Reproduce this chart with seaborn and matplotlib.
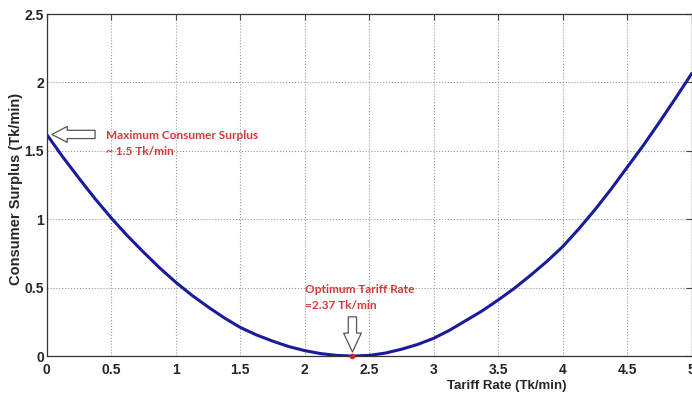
import numpy as np
import pandas as pd
import matplotlib
matplotlib.use("Agg")
import matplotlib.pyplot as plt
import seaborn as sns

# Values
tariff = [0.0, 0.125, 0.25, 0.375, 0.5, 0.625, 0.75, 0.875, 1.0, 1.125, 1.25, 1.375,
          1.5, 1.625, 1.75, 1.875, 2.0, 2.125, 2.25, 2.37, 2.5, 2.625, 2.75, 2.875,
          3.0, 3.125, 3.25, 3.375, 3.5, 3.625, 3.75, 3.875, 4.0, 4.125, 4.25, 4.375,
          4.5, 4.625, 4.75, 4.875, 5.0]
surplus = [1.62, 1.455, 1.30, 1.15, 1.01, 0.88, 0.76, 0.645, 0.54, 0.445, 0.36, 0.28,
           0.21, 0.155, 0.11, 0.07, 0.04, 0.018, 0.005, 0.0, 0.005, 0.022, 0.05, 0.085,
           0.13, 0.19, 0.26, 0.33, 0.41, 0.495, 0.59, 0.69, 0.80, 0.93, 1.07, 1.22,
           1.38, 1.54, 1.71, 1.885, 2.065]

x_ticks = [0, 0.5, 1, 1.5, 2, 2.5, 3, 3.5, 4, 4.5, 5]
x_tick_labels = ["0", "0.5", "1", "1.5", "2", "2.5", "3", "3.5", "4", "4.5", "5"]
y_ticks = [0, 0.5, 1, 1.5, 2, 2.5]
y_tick_labels = ["0", "0.5", "1", "1.5", "2", "2.5"]

opt_rate = 2.37
max_surplus = 1.62

df = pd.DataFrame({"Tariff": tariff, "Surplus": surplus})

sns.set_style("white")
plt.rcParams["font.family"] = ["Liberation Sans", "DejaVu Sans"]

fig = plt.figure(figsize=(6.92, 4.01), dpi=100)
ax = fig.add_axes([46.7 / 692, 0.112, 645 / 692, 0.853])

sns.lineplot(data=df, x="Tariff", y="Surplus", color="#1a1a9c", linewidth=2.2, ax=ax)

ax.set_xlim(0, 5)
ax.set_ylim(0, 2.5)
ax.set_xticks(x_ticks)
ax.set_xticklabels(x_tick_labels, fontsize=10, fontweight="bold")
ax.set_yticks(y_ticks)
ax.set_yticklabels(y_tick_labels, fontsize=10, fontweight="bold")
ax.tick_params(direction="in", length=4, top=True, right=True, color="#444444")
ax.tick_params(axis="x", pad=5)
ax.tick_params(axis="y", pad=2)
ax.grid(True, linestyle=":", color="#999999", linewidth=0.8)
for sp in ax.spines.values():
    sp.set_color("#333333")
    sp.set_linewidth(0.9)

ax.set_xlabel("Tariff Rate (Tk/min)", fontsize=9.5, fontweight="bold")
ax.xaxis.set_label_coords(0.714, -0.07)
ax.set_ylabel("Consumer Surplus (Tk/min)", fontsize=10.5, fontweight="bold")
ax.yaxis.set_label_coords(-0.037, 0.49)

red = "#d43a3a"
# Maximum point annotation
ax.annotate("", xy=(0.04, max_surplus), xytext=(0.375, max_surplus),
            arrowprops=dict(arrowstyle="simple,head_length=1.3,head_width=1.35,tail_width=0.7",
                            fc="white", ec="#555555", lw=0.9, shrinkA=0, shrinkB=0,
                            mutation_scale=8.5))
ax.text(0.46, 1.615, "Maximum Consumer Surplus", color=red, fontsize=8.6,
        fontweight="bold", family="Lato", va="center")
ax.text(0.46, 1.493, "~ 1.5 Tk/min", color=red, fontsize=8.6,
        fontweight="bold", family="Lato", va="center")

# Optimum annotation
ax.annotate("", xy=(opt_rate, 0.03), xytext=(opt_rate, 0.287),
            arrowprops=dict(arrowstyle="simple,head_length=1.6,head_width=1.5,tail_width=0.7",
                            fc="white", ec="#555555", lw=0.9, shrinkA=0, shrinkB=0,
                            mutation_scale=8.5))
ax.text(2.0, 0.487, "Optimum Tariff Rate", color=red, fontsize=8.6,
        fontweight="bold", family="Lato", va="center")
ax.text(2.0, 0.373, "=2.37 Tk/min", color=red, fontsize=8.6,
        fontweight="bold", family="Lato", va="center")
ax.plot([opt_rate], [0.0], "o", color="#d42020", markersize=3, clip_on=False, zorder=5)

fig.savefig("out.png", dpi=100)
